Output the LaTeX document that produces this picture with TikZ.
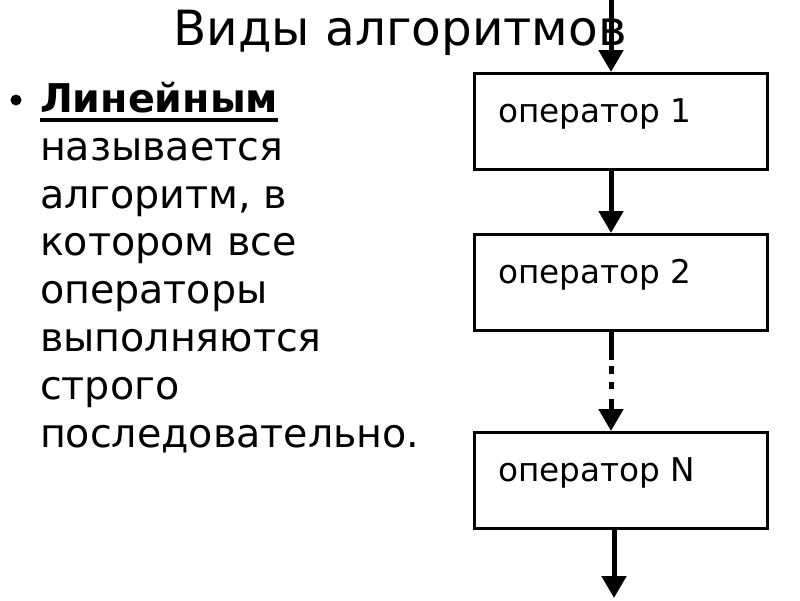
\documentclass[tikz,border=0pt]{standalone}
\usepackage{fontspec}
\setmainfont{DejaVu Sans}
\usetikzlibrary{arrows.meta}
\begin{document}
\begin{tikzpicture}[x=1pt,y=-1pt,
  txt/.style={anchor=base west,inner sep=0pt,outer sep=0pt,font=\fontsize{39.6}{44}\selectfont},
  opbox/.style={draw,line width=3pt,minimum width=293pt,minimum height=96pt,inner sep=0pt,anchor=north west},
  optext/.style={anchor=base west,inner sep=0pt,font=\fontsize{32.7}{36}\selectfont},
  flow/.style={line width=5pt,-{Triangle[width=24pt,length=22pt]}}]
\useasboundingbox (0,0) rectangle (800,600);
\fill[white] (0,0) rectangle (800,600);
% title
\node[anchor=base,inner sep=0pt,font=\fontsize{48.5}{52}\selectfont] (title) at (400,45) {Виды алгоритмов};
% bullet text
\fill (16,100) circle (5.5pt);
\node[txt,font=\bfseries\fontsize{39.6}{44}\selectfont] (l1) at (40,112) {Линейным};
\draw[line width=4pt] ([yshift=-8pt]l1.base west) -- ([yshift=-8pt]l1.base east);
\node[txt] (l2) at (40,160) {называется};
\node[txt] (l3) at (40,208) {алгоритм, в};
\node[txt] (l4) at (40,255) {котором все};
\node[txt] (l5) at (40,303) {операторы};
\node[txt] (l6) at (40,351) {выполняются};
\node[txt] (l7) at (40,399) {строго};
\node[txt] (l8) at (40,447) {последовательно.};
% boxes
\node[opbox] (b1) at (473,72) {};
\node[opbox] (b2) at (473,233) {};
\node[opbox] (bn) at (473,431) {};
\node[optext] (t1) at (498,122) {оператор 1};
\node[optext] (t2) at (498,283) {оператор 2};
\node[optext] (tn) at (498,481) {оператор N};
% arrows
\coordinate (top) at (611,0);
\coordinate (bot) at (614,598);
\draw[flow] (top) -- (b1.north -| top);
\draw[flow] (b1.south -| top) -- (b2.north -| top);
\draw[flow,dash pattern=on 28pt off 6pt on 8pt off 8pt on 7pt off 10pt on 40pt] (b2.south -| top) -- (bn.north -| top);
\draw[flow] (bn.south -| bot) -- (bot);
\end{tikzpicture}
\end{document}
